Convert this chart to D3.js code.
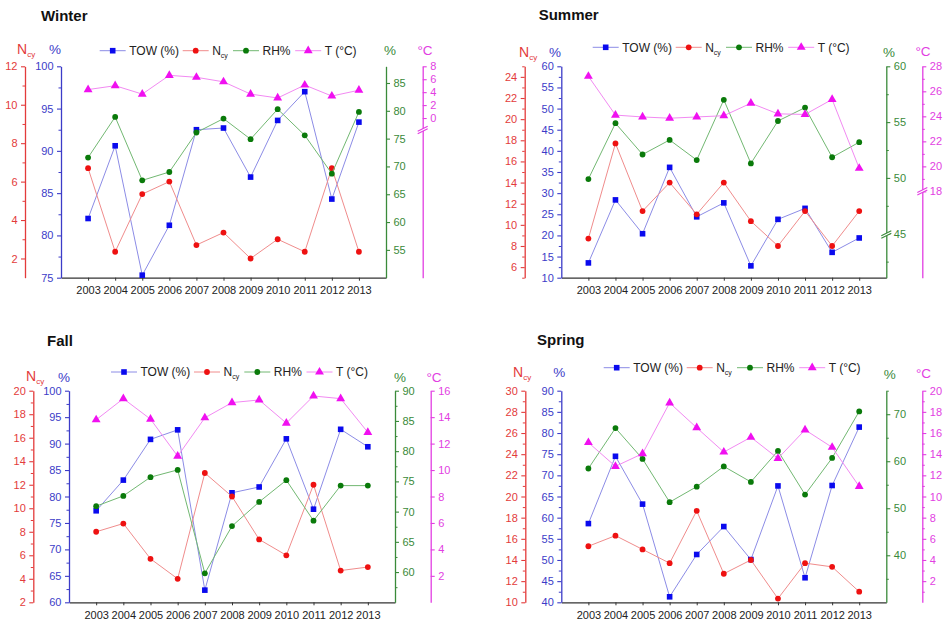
<!DOCTYPE html>
<html>
<head>
<meta charset="utf-8">
<script src="https://cdn.jsdelivr.net/npm/d3@7"></script>
<style>
  body { margin: 0; background: #fff; }
  svg text { font-family: 'Liberation Sans', Arial, sans-serif; }
</style>
</head>
<body>
<div id="wrapper"></div>
<script>
// data
const years = [2003, 2004, 2005, 2006, 2007, 2008, 2009, 2010, 2011, 2012, 2013];

const winterTow = [82.0, 90.6, 75.3, 81.2, 92.5, 92.7, 86.9, 93.6, 97.0, 84.3, 93.4];
const winterNcy = [6.7, 2.35, 5.35, 6.0, 2.7, 3.35, 2.0, 3.0, 2.35, 6.7, 2.35];
const winterRh = [71.6, 78.9, 67.5, 69.0, 76.1, 78.6, 74.9, 80.3, 75.6, 68.7, 79.8];
const winterTemp = [4.4, 5.0, 3.7, 6.6, 6.3, 5.6, 3.7, 3.1, 5.1, 3.4, 4.3];

const summerTow = [13.5, 28.4, 20.4, 36.1, 24.4, 27.7, 12.8, 23.8, 26.4, 16.0, 19.4];
const summerNcy = [8.7, 17.7, 11.3, 14.0, 11.0, 14.0, 10.35, 8.0, 11.3, 8.0, 11.3];
const summerRh = [49.9, 54.9, 52.1, 53.4, 51.6, 57.0, 51.3, 55.1, 56.3, 51.85, 53.2];
const summerTemp = [27.2, 24.1, 23.95, 23.85, 23.95, 24.05, 25.05, 24.2, 24.15, 25.35, 19.85];

const fallTow = [77.3, 83.1, 90.8, 92.6, 62.3, 80.7, 81.8, 90.9, 77.6, 92.7, 89.4];
const fallNcy = [8.0, 8.7, 5.7, 4.0, 13.0, 11.0, 7.35, 6.0, 12.0, 4.7, 5.0];
const fallRh = [70.9, 72.6, 75.7, 76.9, 59.8, 67.6, 71.6, 75.2, 68.5, 74.3, 74.3];
const fallTemp = [13.8, 15.4, 13.85, 11.05, 13.95, 15.1, 15.3, 13.55, 15.6, 15.4, 12.85];

const springTow = [58.6, 74.5, 63.2, 41.3, 51.3, 57.9, 50.1, 67.5, 45.8, 67.6, 81.4];
const springNcy = [15.3, 16.3, 15.0, 13.7, 18.65, 12.7, 14.0, 10.35, 13.7, 13.35, 11.0];
const springRh = [58.45, 67.05, 60.5, 51.3, 54.6, 58.9, 55.6, 62.2, 52.9, 60.7, 70.6];
const springTemp = [15.1, 12.85, 14.05, 18.85, 16.5, 14.2, 15.6, 13.6, 16.3, 14.65, 10.95];

const legendLabels = ["TOW (%)", "N", "RH%", "T (°C)"];

// colours
const col = {
  red: "#e33b3b", blue: "#3c3cc8", green: "#3a8a3a", magenta: "#e23ee2",
  redLine: "#f08c8c", blueLine: "#8c8ce6", greenLine: "#72b872", magentaLine: "#f28af2",
  redMark: "#ee1111", blueMark: "#0a0aee", greenMark: "#0a7a0a", magentaMark: "#f010f0"
};

const range = (a, b, s) => d3.range(a, b + s / 1000, s);

// panel layouts
const panels = [
  {
    title: "Winter", titleX: 41, titleY: 21,
    redX: 25, left: 61, right: 386, magX: 422.7, top: 66.3, bottom: 277.7,
    legX: 112.7, legY: 50.7,
    ncyLabel: [17, 54], blueLabel: [55, 54], greenLabel: [390, 55], magLabel: [425, 55],
    tow: winterTow, ncy: winterNcy, rh: winterRh, temp: winterTemp,
    red: { domain: [1, 12], major: range(2, 12, 2), minor: range(3, 11, 2) },
    blue: { domain: [75, 100], major: range(75, 100, 5), minor: range(77.5, 97.5, 5) },
    green: { domain: [50, 88], major: range(55, 85, 5), minor: null },
    mag: { domain: [-24.7, 8], major: range(0, 8, 2), minor: null, breakAt: -1.9 }
  },
  {
    title: "Summer", titleX: 538.7, titleY: 20,
    redX: 524.7, left: 561.3, right: 886.3, magX: 922.3, top: 66.3, bottom: 277.7,
    legX: 605.7, legY: 47.3,
    ncyLabel: [519, 56.5], blueLabel: [555, 56.5], greenLabel: [889, 56.5], magLabel: [923, 56],
    tow: summerTow, ncy: summerNcy, rh: summerRh, temp: summerTemp,
    red: { domain: [5, 25], major: range(6, 24, 2), minor: range(5, 25, 2) },
    blue: { domain: [10, 60], major: range(10, 60, 5), minor: range(12.5, 57.5, 5) },
    green: { domain: [41.06, 60], major: range(45, 60, 5), minor: range(42.5, 57.5, 2.5).filter(v => v % 5 !== 0), breakAt: 44.9 },
    mag: { domain: [11.1, 28], major: range(18, 28, 2), minor: range(19, 27, 2), breakAt: 18 }
  },
  {
    title: "Fall", titleX: 47, titleY: 346,
    redX: 33.3, left: 69, right: 395, magX: 430.7, top: 390.7, bottom: 602.3,
    legX: 124, legY: 372,
    ncyLabel: [26, 381], blueLabel: [64, 382], greenLabel: [400, 382], magLabel: [434, 381.5],
    tow: fallTow, ncy: fallNcy, rh: fallRh, temp: fallTemp,
    red: { domain: [2, 20], major: range(2, 20, 2), minor: range(3, 19, 2) },
    blue: { domain: [60, 100], major: range(60, 100, 5), minor: range(62.5, 97.5, 5) },
    green: { domain: [55, 90], major: range(60, 90, 5), minor: range(57.5, 87.5, 5) },
    mag: { domain: [0, 16], major: range(2, 16, 2), minor: null }
  },
  {
    title: "Spring", titleX: 537, titleY: 345,
    redX: 525.3, left: 561.3, right: 886.3, magX: 922.3, top: 390.7, bottom: 602.3,
    legX: 616.7, legY: 367.7,
    ncyLabel: [513, 377], blueLabel: [559.3, 377], greenLabel: [889.7, 379], magLabel: [923.5, 377.5],
    tow: springTow, ncy: springNcy, rh: springRh, temp: springTemp,
    red: { domain: [10, 30], major: range(10, 30, 2), minor: range(11, 29, 2) },
    blue: { domain: [40, 90], major: range(40, 90, 5), minor: range(42.5, 87.5, 5) },
    green: { domain: [30, 75], major: range(40, 70, 10), minor: range(35, 75, 10) },
    mag: { domain: [0, 20], major: range(2, 20, 2), minor: range(1, 19, 2) }
  }
];

const svg = d3.select("#wrapper")
  .append("svg")
  .attr("width", 946)
  .attr("height", 620);

function drawAxis(g, scale, xPos, side, color, cfg) {
  const make = () => side === "left" ? d3.axisLeft(scale) : d3.axisRight(scale);
  const ax = g.append("g")
    .attr("transform", `translate(${xPos},0)`)
    .call(make().tickValues(cfg.major).tickSize(4).tickSizeOuter(0).tickPadding(3.5).tickFormat(d3.format("d")));
  ax.attr("font-family", null).attr("font-size", null);
  ax.select(".domain").attr("stroke", color).attr("stroke-width", 1.3);
  ax.selectAll(".tick line").attr("stroke", color).attr("stroke-width", 1.1);
  ax.selectAll(".tick text").attr("fill", color).style("font-size", "11px");

  if (cfg.minor) {
    const mn = g.append("g")
      .attr("transform", `translate(${xPos},0)`)
      .call(make().tickValues(cfg.minor).tickSize(2.5).tickSizeOuter(0).tickFormat(""));
    mn.select(".domain").remove();
    mn.selectAll(".tick line").attr("stroke", color).attr("stroke-width", 1);
  }

  if (cfg.breakAt != null) {
    const yb = scale(cfg.breakAt);
    const brk = g.append("g").attr("transform", `translate(${xPos},${yb})`);
    brk.append("path")
      .attr("d", "M-5,1 L5,-4 L5,-1.5 L-5,3.5 Z")
      .attr("fill", "#fff");
    brk.append("line").attr("x1", -5).attr("y1", 1).attr("x2", 5).attr("y2", -4)
      .attr("stroke", color).attr("stroke-width", 1.1);
    brk.append("line").attr("x1", -5).attr("y1", 3.5).attr("x2", 5).attr("y2", -1.5)
      .attr("stroke", color).attr("stroke-width", 1.1);
  }
}

function marker(sel, kind, color) {
  if (kind === "square") {
    sel.append("rect").attr("x", -2.8).attr("y", -2.8).attr("width", 5.6).attr("height", 5.6).attr("fill", color);
  } else if (kind === "circle") {
    sel.append("circle").attr("r", 2.9).attr("fill", color);
  } else {
    sel.append("path").attr("d", d3.symbol(d3.symbolTriangle, 34)()).attr("fill", color);
  }
}

function drawPanel(p) {
  const g = svg.append("g");

  const xScale = d3.scalePoint().domain(years).range([p.left, p.right]).padding(1);
  const yRed = d3.scaleLinear().domain(p.red.domain).range([p.bottom, p.top]);
  const yBlue = d3.scaleLinear().domain(p.blue.domain).range([p.bottom, p.top]);
  const yGreen = d3.scaleLinear().domain(p.green.domain).range([p.bottom, p.top]);
  const yMag = d3.scaleLinear().domain(p.mag.domain).range([p.bottom, p.top]);

  // title
  g.append("text")
    .attr("x", p.titleX).attr("y", p.titleY)
    .attr("font-weight", "bold").attr("font-size", 15).attr("fill", "#111")
    .text(p.title);

  // x axis
  const xAxis = g.append("g")
    .attr("transform", `translate(0,${p.bottom})`)
    .call(d3.axisBottom(xScale).tickSize(3).tickSizeOuter(0).tickPadding(5.5));
  xAxis.attr("font-family", null).attr("font-size", null);
  xAxis.select(".domain").attr("stroke", "#333").attr("stroke-width", 1.3);
  xAxis.selectAll(".tick line").attr("stroke", "#333");
  xAxis.selectAll(".tick text").attr("fill", "#222").style("font-size", "11px");

  drawAxis(g, yRed, p.redX, "left", col.red, p.red);
  drawAxis(g, yBlue, p.left, "left", col.blue, p.blue);
  drawAxis(g, yGreen, p.right, "right", col.green, p.green);
  drawAxis(g, yMag, p.magX, "right", col.magenta, p.mag);

  // axis titles
  const nt = g.append("text")
    .attr("x", p.ncyLabel[0]).attr("y", p.ncyLabel[1])
    .attr("fill", col.red).attr("font-size", 14);
  nt.append("tspan").text("N");
  nt.append("tspan").attr("dy", 3).attr("font-size", 8).text("cy");

  [[p.blueLabel, col.blue, "%"], [p.greenLabel, col.green, "%"], [p.magLabel, col.magenta, "°C"]]
    .forEach(([pos, c, t]) => {
      g.append("text").attr("x", pos[0]).attr("y", pos[1])
        .attr("text-anchor", "middle").attr("fill", c).attr("font-size", 13.5).text(t);
    });

  // series
  const series = [
    { values: p.tow, y: yBlue, line: col.blueLine, mark: col.blueMark, kind: "square" },
    { values: p.ncy, y: yRed, line: col.redLine, mark: col.redMark, kind: "circle" },
    { values: p.rh, y: yGreen, line: col.greenLine, mark: col.greenMark, kind: "circle" },
    { values: p.temp, y: yMag, line: col.magentaLine, mark: col.magentaMark, kind: "triangle" }
  ];

  series.forEach(s => {
    const pts = years.map((yr, i) => [xScale(yr), s.y(s.values[i])]);
    g.append("path")
      .attr("d", d3.line()(pts))
      .attr("fill", "none")
      .attr("stroke", s.line)
      .attr("stroke-width", 1);
    pts.forEach(pt => {
      const m = g.append("g").attr("transform", `translate(${pt[0]},${pt[1]})`);
      marker(m, s.kind, s.mark);
    });
  });

  // legend
  const offsets = [0, 83, 133.3, 195.5];
  series.forEach((s, i) => {
    const mx = p.legX + offsets[i];
    const lg = g.append("g").attr("transform", `translate(${mx},${p.legY})`);
    lg.append("line").attr("x1", -13).attr("x2", 13).attr("stroke", s.line).attr("stroke-width", 1);
    marker(lg, s.kind, s.mark);
    const t = lg.append("text").attr("x", 16.5).attr("y", 4.3)
      .attr("font-size", 12).attr("fill", "#222");
    t.append("tspan").text(legendLabels[i]);
    if (i === 1) t.append("tspan").attr("dy", 3).attr("font-size", 7).text("cy");
  });
}

panels.forEach(drawPanel);
</script>
</body>
</html>
